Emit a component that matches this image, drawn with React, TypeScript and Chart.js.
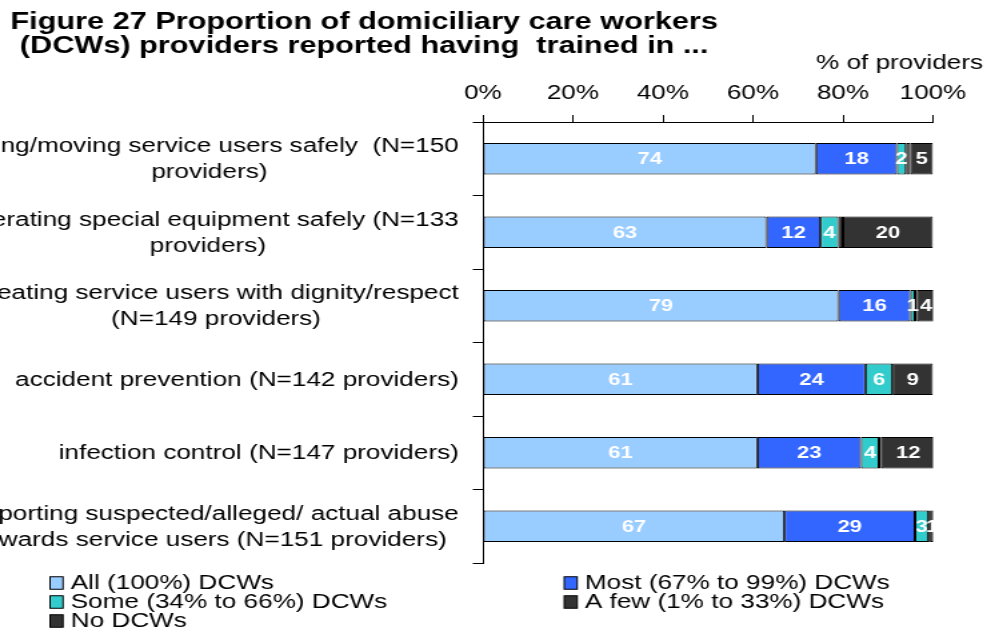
import React, { useEffect, useRef } from "react";
import { Chart, registerables } from "chart.js";

Chart.register(...registerables);

// ---------- data ----------
const categories: string[][] = [
  ["Lifting/moving service users safely  (N=150", "providers)"],
  ["Operating special equipment safely (N=133", "providers)"],
  ["Treating service users with dignity/respect", "(N=149 providers)"],
  ["accident prevention (N=142 providers)"],
  ["infection control (N=147 providers)"],
  ["Reporting suspected/alleged/ actual abuse", "towards service users (N=151 providers)"],
];
const allDCWs = [74, 63, 79, 61, 61, 67];
const mostDCWs = [18, 12, 16, 24, 23, 29];
const someDCWs = [2, 4, 1, 6, 4, 3];
const fewDCWs = [1, 1, 0.5, 0, 0.5, 0.3];
const noDCWs = [5, 20, 4, 9, 12, 1];
const seriesNames = [
  "All (100%) DCWs",
  "Most (67% to 99%) DCWs",
  "Some (34% to 66%) DCWs",
  "A few (1% to 33%) DCWs",
  "No DCWs",
];
const seriesColors = ["#99CCFF", "#3366FF", "#33CCCC", "#333333", "#333333"];
const seriesShowLabels = [true, true, true, false, true];
const xTicks = [0, 20, 40, 60, 80, 100];
const titleLines = [
  "Figure 27 Proportion of domiciliary care workers",
  "(DCWs) providers reported having  trained in ...",
];
const axisTitle = "% of providers";

// ---------- layout / style ----------
const FONT = '"Liberation Sans", Arial, Helvetica, sans-serif';
const CANVAS_W = 740;
const CANVAS_H = 631;
const STRETCH = 987 / CANVAS_W;

const customPlugin = {
  id: "customDraw",
  afterDatasetsDraw(chart: any) {
    const ctx = chart.ctx;
    ctx.save();
    ctx.font = `bold 16.5px ${FONT}`;
    ctx.fillStyle = "#ffffff";
    ctx.textAlign = "center";
    ctx.textBaseline = "middle";
    chart.data.datasets.forEach((ds: any, di: number) => {
      if (!seriesShowLabels[di]) return;
      const meta = chart.getDatasetMeta(di);
      meta.data.forEach((el: any, i: number) => {
        const v = ds.data[i];
        if (v == null || Math.round(v) < 1) return;
        const c = el.getCenterPoint();
        ctx.fillText(String(Math.round(v)), c.x, c.y + 1);
      });
    });
    ctx.restore();
  },
  afterDraw(chart: any) {
    const ctx = chart.ctx;
    const area = chart.chartArea;
    const yScale = chart.scales.y;
    ctx.save();
    // title
    ctx.fillStyle = "#000";
    ctx.font = `bold 23px ${FONT}`;
    ctx.textAlign = "center";
    ctx.textBaseline = "alphabetic";
    ctx.fillText(titleLines[0], 273, 29);
    ctx.fillText(titleLines[1], 273, 53);

    // axis title
    ctx.font = `19.6px ${FONT}`;
    ctx.textAlign = "right";
    ctx.fillText(axisTitle, area.right + 37.5, 69);

    // category labels (block right aligned, lines centered)
    ctx.font = `19.6px ${FONT}`;
    ctx.textBaseline = "middle";
    ctx.textAlign = "center";
    const lineH = 26;
    categories.forEach((lines, i) => {
      const y = yScale.getPixelForValue(i);
      const w = Math.max(...lines.map((l) => ctx.measureText(l).width));
      const right = area.left - 18;
      const cx = right - w / 2;
      lines.forEach((l, j) => {
        ctx.fillText(l, cx, y + (j - (lines.length - 1) / 2) * lineH + 1);
      });
    });

    // legend
    const cols = [37.5, 423];
    const rows = [583, 602, 621];
    const boxW = 13 / STRETCH;
    const boxH = 12.5;
    ctx.textAlign = "left";
    ctx.textBaseline = "middle";
    seriesNames.forEach((name, i) => {
      const x = cols[i % 2];
      const y = rows[Math.floor(i / 2)];
      ctx.fillStyle = seriesColors[i];
      ctx.fillRect(x, y - boxH / 2, boxW, boxH);
      ctx.strokeStyle = "#000";
      ctx.lineWidth = 1;
      ctx.strokeRect(x, y - boxH / 2, boxW, boxH);
      ctx.fillStyle = "#000";
      ctx.fillText(name, x + 15.5, y + 1);
    });
    ctx.restore();
  },
};

export default function App() {
  const ref = useRef<HTMLCanvasElement | null>(null);

  useEffect(() => {
    if (!ref.current) return;
    const datasetsValues = [allDCWs, mostDCWs, someDCWs, fewDCWs, noDCWs];
    const chart = new Chart(ref.current, {
      type: "bar",
      data: {
        labels: categories.map((c) => c.join(" ")),
        datasets: datasetsValues.map((vals, i) => ({
          label: seriesNames[i],
          data: vals,
          backgroundColor: seriesColors[i],
          borderColor: "#000000",
          borderWidth: 1,
          borderSkipped: false,
          barPercentage: 0.43,
          categoryPercentage: 1,
        })),
      },
      options: {
        responsive: false,
        animation: false,
        indexAxis: "y",
        layout: { padding: { left: 0, right: 40.5, top: 0, bottom: 68 } },
        plugins: {
          legend: { display: false },
          title: { display: false },
          tooltip: { enabled: false },
        },
        scales: {
          x: {
            type: "linear",
            position: "top",
            stacked: true,
            min: 0,
            max: 100,
            afterBuildTicks: (s: any) => {
              s.ticks = xTicks.map((v) => ({ value: v }));
            },
            ticks: {
              color: "#000",
              font: { family: FONT, size: 19.5 },
              padding: 10,
              maxRotation: 0,
              autoSkip: false,
              callback: (v: any) => `${v}%`,
            },
            grid: {
              drawOnChartArea: false,
              drawTicks: true,
              tickLength: 7,
              color: "#000",
            },
            border: { display: true, color: "#000" },
            afterFit: (s: any) => {
              s.height = 122;
            },
          },
          y: {
            type: "category",
            stacked: true,
            offset: true,
            ticks: { display: false },
            grid: {
              offset: true,
              drawOnChartArea: false,
              drawTicks: true,
              tickLength: 7.5,
              color: "#000",
            },
            border: { display: true, color: "#000" },
            afterFit: (s: any) => {
              s.width = 362;
            },
          },
        },
      } as any,
      plugins: [customPlugin],
    });
    return () => chart.destroy();
  }, []);

  return (
    <div
      style={{
        position: "fixed",
        left: 0,
        top: 0,
        width: 987,
        height: 631,
        overflow: "hidden",
        background: "#fff",
      }}
    >
      <div
        style={{
          width: CANVAS_W,
          height: CANVAS_H,
          transform: `scaleX(${STRETCH})`,
          transformOrigin: "0 0",
        }}
      >
        <canvas
          ref={ref}
          width={CANVAS_W}
          height={CANVAS_H}
          style={{ display: "block", width: CANVAS_W, height: CANVAS_H }}
        />
      </div>
    </div>
  );
}
